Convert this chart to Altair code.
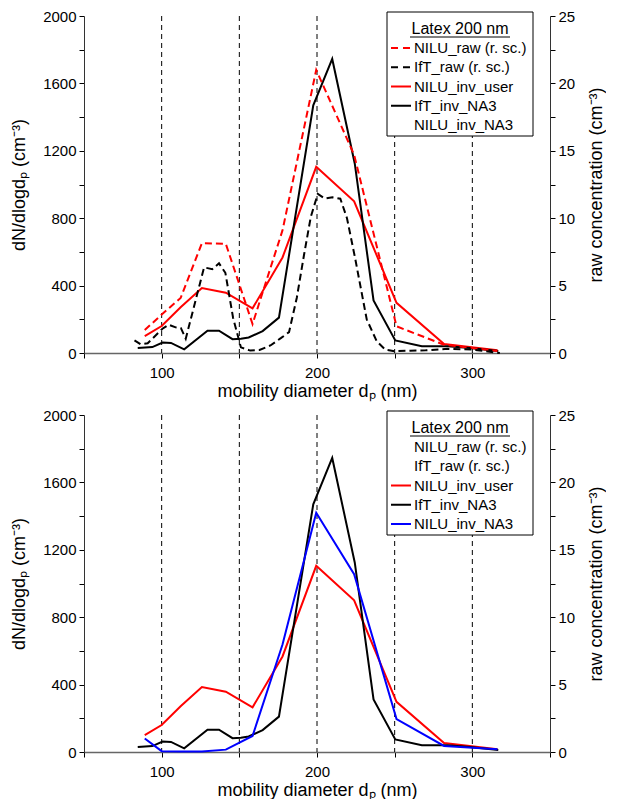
import altair as alt
import pandas as pd

FONT = "Liberation Sans"
W, H = 466, 337

# ---------------- data ----------------
nilu_dp = [89.1, 100.0, 112.2, 125.9, 141.3, 158.5, 177.8, 199.5, 223.9, 251.2, 281.8, 316.2]
nilu_inv_user = [100, 160, 272, 385, 358, 265, 567, 1105, 900, 298, 53, 16]
nilu_inv_na3 = [80, 5, 3, 3, 14, 95, 638, 1420, 1055, 195, 36, 16]
nilu_raw = [1.70, 2.85, 4.08, 8.15, 8.10, 2.15, 9.10, 21.0, 14.7, 1.98, 0.61, 0.15]

ift_inv_dp = [84.6, 94.0, 100.6, 106.0, 114.5, 129.5, 136.9, 145.6, 151.0, 156.0,
              165.0, 175.5, 197.6, 209.8, 224.3, 236.4, 250.4, 267.5, 284.0, 298.5, 316.7]
ift_inv_na3 = [30, 35, 62, 60, 22, 132, 132, 82, 85, 92,
               130, 210, 1470, 1745, 1125, 312, 75, 40, 40, 30, 12]

ift_raw_dp = [82.5, 86.5, 91.0, 100.5, 104.5, 109.0, 112.4, 115.5, 127.3, 132.6,
              136.9, 141.0, 146.0, 151.0, 157.0, 163.0, 170.0, 176.7, 182.0, 187.0,
              191.6, 196.0, 200.5, 205.0, 210.0, 215.0, 219.3, 224.6, 232.0, 238.5,
              244.0, 250.0, 260.0, 270.0, 284.0, 300.0, 317.7]
ift_raw = [0.94, 0.65, 0.72, 1.80, 2.10, 1.90, 1.85, 1.06, 6.35, 6.22,
           6.65, 5.95, 2.60, 0.42, 0.18, 0.22, 0.56, 1.10, 1.55, 4.10,
           7.25, 10.1, 11.8, 11.45, 11.55, 11.45, 10.0, 7.0, 2.5, 0.86,
           0.25, 0.13, 0.17, 0.20, 0.31, 0.25, 0.0]

ref_lines = [100, 150, 200, 250, 300]
x_ticks = [50, 100, 150, 200, 250, 300, 350]
left_ticks = [0, 200, 400, 600, 800, 1000, 1200, 1400, 1600, 1800, 2000]
right_ticks = [0, 2.5, 5, 7.5, 10, 12.5, 15, 17.5, 20, 22.5, 25]

legend_title = "Latex 200 nm"
legend_labels = ["NILU_raw (r. sc.)", "IfT_raw (r. sc.)", "NILU_inv_user", "IfT_inv_NA3", "NILU_inv_NA3"]
legend_dashed = [True, True, False, False, False]
top_colors = ["#ff0000", "#000000", "#ff0000", "#000000", None]
bottom_colors = [None, None, "#ff0000", "#000000", "#0000ff"]

series = {
    "NILU_inv_user": (nilu_dp, nilu_inv_user, "#ff0000"),
    "IfT_inv_NA3": (ift_inv_dp, ift_inv_na3, "#000000"),
    "NILU_inv_NA3": (nilu_dp, nilu_inv_na3, "#0000ff"),
    "NILU_raw": (nilu_dp, nilu_raw, "#ff0000"),
    "IfT_raw": (ift_raw_dp, ift_raw, "#000000"),
}


def long_df(names):
    rows = []
    for n in names:
        xs, ys, col = series[n]
        for i, (a, b) in enumerate(zip(xs, ys)):
            rows.append({"series": n, "dp": a, "v": b, "order": i, "col": col})
    return pd.DataFrame(rows)


x_enc = alt.X(
    "dp:Q",
    scale=alt.Scale(domain=[50, 350], nice=False, zero=False),
    axis=alt.Axis(
        values=x_ticks,
        labelExpr="datum.value % 100 == 0 ? datum.label : ''",
        title="mobility diameter dₚ (nm)",
        tickSize=5, grid=False, domainColor="#666666", domainWidth=1.5,
        labelPadding=7, titlePadding=2,
    ),
)

left_scale = alt.Scale(domain=[0, 2000], nice=False)
right_scale = alt.Scale(domain=[0, 25], nice=False)

left_axis = alt.Axis(
    values=left_ticks, format="d", labelExpr="datum.value % 400 == 0 ? datum.label : ''",
    title="dN/dlogdₚ (cm⁻³)", tickSize=5, grid=False, orient="left",
    domainColor="#333333", labelPadding=3, titlePadding=14,
)
right_axis = alt.Axis(
    values=right_ticks, labelExpr="datum.value % 5 == 0 ? datum.label : ''",
    title="raw concentration (cm⁻³)", tickSize=5, grid=False, orient="right",
    titleAngle=270, domainColor="#333333", labelPadding=3, titlePadding=31,
)


def panel(left_names, raw_names, legend_colors):
    layers = []
    vdf = pd.DataFrame({"dp": ref_lines})
    layers.append(
        alt.Chart(vdf).mark_rule(color="black", strokeWidth=1, strokeDash=[5, 4]).encode(x=x_enc)
    )
    ldf = long_df(left_names)
    layers.append(
        alt.Chart(ldf).mark_line(strokeWidth=2).encode(
            x=x_enc,
            y=alt.Y("v:Q", scale=left_scale, axis=left_axis),
            color=alt.Color("col:N", scale=None),
            detail="series:N",
            order="order:Q",
        )
    )
    if raw_names:
        rdf = long_df(raw_names)
        layers.append(
            alt.Chart(rdf).mark_line(strokeWidth=2, strokeDash=[7, 4]).encode(
                x=x_enc,
                y=alt.Y("v:Q", scale=right_scale, axis=None),
                color=alt.Color("col:N", scale=None),
                detail="series:N",
                order="order:Q",
            )
        )
    # carrier for the right axis
    layers.append(
        alt.Chart(pd.DataFrame({"v": [0, 25]})).mark_point(opacity=0).encode(
            x=alt.value(0), y=alt.Y("v:Q", scale=right_scale, axis=right_axis)
        )
    )
    # legend box
    one = pd.DataFrame({"a": [0]})
    layers.append(
        alt.Chart(one).mark_rect(fill="white", stroke="black", strokeWidth=1).encode(
            x=alt.value(303), x2=alt.value(449), y=alt.value(-4), y2=alt.value(120)
        )
    )
    layers.append(
        alt.Chart(one).mark_text(text=legend_title, font=FONT, fontSize=16, align="center",
                                 baseline="alphabetic").encode(x=alt.value(376), y=alt.value(18))
    )
    layers.append(
        alt.Chart(one).mark_rule(color="black", strokeWidth=1).encode(
            x=alt.value(326), x2=alt.value(426), y=alt.value(21)
        )
    )
    leg = pd.DataFrame({
        "row": list(range(len(legend_labels))),
        "label": legend_labels,
        "dashed": ["dash" if d else "solid" for d in legend_dashed],
        "col": [c if c else "none" for c in legend_colors],
    })
    row_y = alt.Y("row:Q", scale=alt.Scale(domain=[0, 4], range=[32, 109]), axis=None)
    layers.append(
        alt.Chart(leg).transform_filter("datum.col != 'none'").mark_rule(strokeWidth=2).encode(
            x=alt.value(307), x2=alt.value(327), y=row_y,
            color=alt.Color("col:N", scale=None),
            strokeDash=alt.StrokeDash("dashed:N", scale=alt.Scale(domain=["dash", "solid"],
                                      range=[[7, 5], [1, 0]]), legend=None),
        )
    )
    layers.append(
        alt.Chart(leg).mark_text(font=FONT, fontSize=15, align="left", baseline="middle").encode(
            x=alt.value(330), y=row_y, text="label:N"
        )
    )
    return alt.layer(*layers).resolve_scale(y="independent").properties(width=W, height=H)


top = panel(["NILU_inv_user", "IfT_inv_NA3"], ["NILU_raw", "IfT_raw"], top_colors)
bottom = panel(["NILU_inv_user", "IfT_inv_NA3", "NILU_inv_NA3"], [], bottom_colors)

chart = alt.vconcat(top, bottom, spacing=8).properties(
    padding={"left": 2, "top": 1, "right": 0, "bottom": 0}
).configure_view(stroke=None).configure_axis(
    labelFont=FONT, titleFont=FONT, labelFontSize=15, titleFontSize=18,
    titleFontWeight="normal", tickColor="black", labelColor="black", titleColor="black",
)

chart.save("out.html", embed_options={"renderer": "svg", "actions": False})
